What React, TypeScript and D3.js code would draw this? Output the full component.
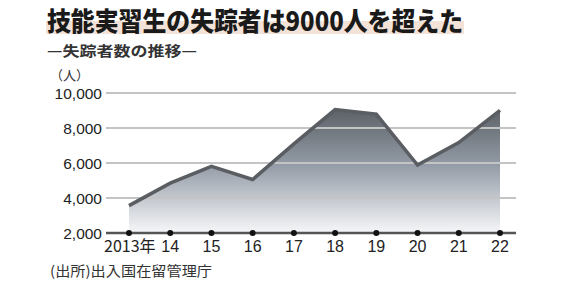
import React from "react";
import * as d3 from "d3";

const years = [2013, 2014, 2015, 2016, 2017, 2018, 2019, 2020, 2021, 2022];
const yearLabels = ["2013年", "14", "15", "16", "17", "18", "19", "20", "21", "22"];
const missing = [3566, 4847, 5803, 5058, 7089, 9052, 8796, 5885, 7167, 9006];
const yTicks = [2000, 4000, 6000, 8000, 10000];

const W = 570;
const H = 281;

export default function App() {
  const x = d3.scaleLinear().domain([2013, 2022]).range([129, 500]);
  const y = d3.scaleLinear().domain([2000, 10000]).range([233, 93]);
  const data = years.map((yr, i) => ({ yr, v: missing[i] }));
  const area = d3
    .area<{ yr: number; v: number }>()
    .x((d) => x(d.yr))
    .y0(y(2000))
    .y1((d) => y(d.v));
  const line = d3
    .line<{ yr: number; v: number }>()
    .x((d) => x(d.yr))
    .y((d) => y(d.v));
  const sans = "'Liberation Sans', Arial, sans-serif";
  const cjk = "'Noto Sans CJK JP', sans-serif";
  return (
    <svg
      width={W}
      height={H}
      viewBox={`0 0 ${W} ${H}`}
      style={{ position: "absolute", left: 0, top: 0, background: "#fff" }}
    >
      <defs>
        <linearGradient id="fillg" x1="0" y1={y(9100)} x2="0" y2={y(2000)} gradientUnits="userSpaceOnUse">
          <stop offset="0" stopColor="#5c6166" />
          <stop offset="0.45" stopColor="#939ba6" />
          <stop offset="1" stopColor="#f6f7f9" />
        </linearGradient>
      </defs>
      <rect x={46} y={21} width={418} height={13} fill="#f3e2d8" />
      <text
        x={47}
        y={31}
        fontFamily={cjk}
        fontWeight={900}
        fontSize={26}
        fill="#1a1a1a"
        textLength={416}
        lengthAdjust="spacingAndGlyphs"
      >
        技能実習生の失踪者は9000人を超えた
      </text>
      <text x={47} y={56} fontFamily={cjk} fontWeight={700} fontSize={14} fill="#333" textLength={150} lengthAdjust="spacingAndGlyphs">
        —失踪者数の推移—
      </text>
      <text x={50} y={80} fontFamily={cjk} fontSize={13} fill="#333">
        （人）
      </text>
      <path d={area(data) || ""} fill="url(#fillg)" />
      {yTicks.slice(1).map((t) => (
        <line key={t} x1={106} x2={516} y1={y(t)} y2={y(t)} stroke="#c4c4c4" strokeWidth={2} />
      ))}
      <path d={line(data) || ""} fill="none" stroke="#5a5d61" strokeWidth={3.5} strokeLinejoin="miter" />
      <line x1={106} x2={516} y1={y(2000)} y2={y(2000)} stroke="#555" strokeWidth={2.5} />
      {years.map((yr) => (
        <circle key={yr} cx={x(yr)} cy={y(2000)} r={3} fill="#111" />
      ))}
      {yTicks.map((t) => (
        <text
          key={t}
          x={102}
          y={y(t) + 5.5}
          textAnchor="end"
          fontFamily={sans}
          fontSize={15.5}
          fill="#222"
        >
          {d3.format(",")(t)}
        </text>
      ))}
      {years.map((yr, i) => (
        <text
          key={yr}
          x={i === 0 ? x(yr) - 25 : x(yr)}
          y={252}
          textAnchor={i === 0 ? "start" : "middle"}
          fontFamily={i === 0 ? cjk : sans}
          fontSize={16}
          fill="#222"
        >
          {yearLabels[i]}
        </text>
      ))}
      <text x={50} y={276} fontFamily={cjk} fontSize={14} fill="#333" textLength={162} lengthAdjust="spacingAndGlyphs">
        (出所)出入国在留管理庁
      </text>
    </svg>
  );
}
